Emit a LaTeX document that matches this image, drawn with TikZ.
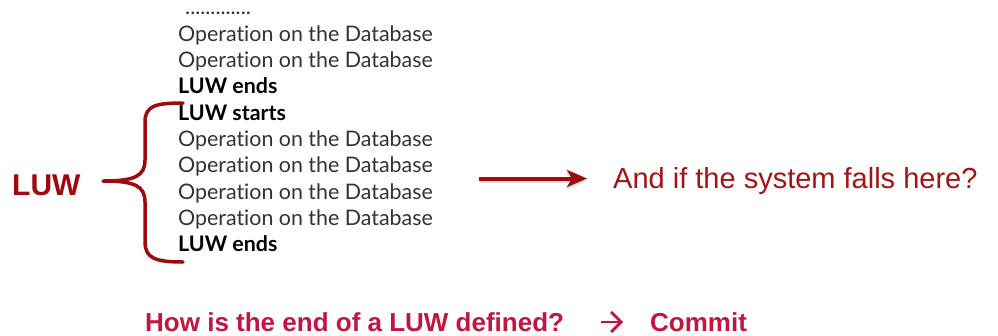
\documentclass[tikz,border=0pt]{standalone}
\usepackage{fontspec}
\setmainfont{Liberation Sans}
\newfontfamily\opfont[Ligatures=NoCommon]{Lato}
\usetikzlibrary{arrows.meta}
\definecolor{luwred}{HTML}{9E0B0F}
\definecolor{qred}{HTML}{A31515}
\definecolor{bred}{HTML}{C0163F}
\definecolor{optext}{HTML}{333333}
\begin{document}
\begin{tikzpicture}[x=1pt,y=-1pt,
  line/.style={anchor=base west,inner sep=0pt,font=\opfont\fontsize{21.4}{21.4}\selectfont,text=optext},
  bline/.style={line,font=\opfont\bfseries\fontsize{21.4}{21.4}\selectfont,text=black},
  bottomtxt/.style={anchor=base west,inner sep=0pt,font=\bfseries\fontsize{26}{26}\selectfont,text=bred},
  bracestyle/.style={draw=luwred,line width=3.5pt,line cap=round,line join=round},
  arrowstyle/.style={draw=luwred,line width=4pt,-{Stealth[length=20pt,width=17pt,inset=5pt]}},
  smallarrow/.style={draw=bred,line width=2.8pt,-{Straight Barb[length=10pt,width=20pt,line width=2.8pt]}}]
\path[use as bounding box,fill=white] (0,0) rectangle (998,335);
\node[line] (dots) at (185,14) {.............};
\node[line] (op1) at (178,41) {Operation on the Database};
\node[line] (op2) at (178,67.3) {Operation on the Database};
\node[bline] (end1) at (178,93.6) {LUW ends};
\node[bline] (start) at (178,120) {LUW starts};
\node[line] (op3) at (178,146.3) {Operation on the Database};
\node[line] (op4) at (178,172.6) {Operation on the Database};
\node[line] (op5) at (178,199) {Operation on the Database};
\node[line] (op6) at (178,225.3) {Operation on the Database};
\node[bline] (end2) at (178,251.6) {LUW ends};
\node[anchor=base west,inner sep=0pt,font=\bfseries\fontsize{30}{30}\selectfont,text=luwred] (luw) at (12,195) {LUW};
\coordinate (bt) at (183,103);
\coordinate (bm) at (103,181);
\coordinate (bb) at (183,262);
\draw[bracestyle] (bt) .. controls (155,103) and (145,106) .. (145,122) -- (145,160)
  .. controls (145,176) and (135,181) .. (bm)
  .. controls (135,181) and (145,186) .. (145,202) -- (145,242)
  .. controls (145,258) and (155,262) .. (bb);
\node[anchor=base west,inner sep=0pt,font=\fontsize{29}{29}\selectfont,text=qred] (q) at (613,188) {And if the system falls here?};
\coordinate (a0) at (479,178.5);
\coordinate (a1) at (587,178.5);
\coordinate (s0) at (480,181);
\coordinate (s1) at (586,181);
\draw[draw=black!35,opacity=0.35,line width=4pt,-{Stealth[length=20pt,width=17pt,inset=5pt]}] (s0) -- (s1);
\draw[arrowstyle] (a0) -- (a1);
\node[bottomtxt] (how) at (145,331) {How is the end of a LUW defined?};
\coordinate (c0) at (601,322);
\coordinate (c1) at (623,322);
\draw[smallarrow] (c0) -- (c1);
\node[bottomtxt] (commit) at (650,331) {Commit};
\end{tikzpicture}
\end{document}
